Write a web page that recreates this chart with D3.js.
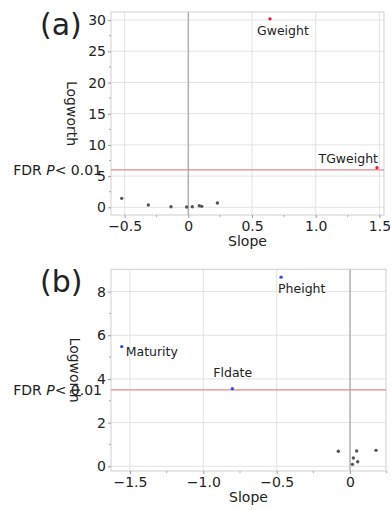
<!DOCTYPE html>
<html><head><meta charset="utf-8">
<script src="https://cdn.jsdelivr.net/npm/d3@7"></script>
<style>body{margin:0;background:#fff}svg{display:block}text{font-family:"DejaVu Sans",Verdana,sans-serif;fill:#222}</style>
</head><body><svg id="c" width="391" height="510"></svg>
<script>
// Panel (a)
const aSlope    = [-0.523, -0.314, -0.136, -0.013, 0.031, 0.086, 0.105, 0.228, 0.641, 1.481];
const aLogworth = [1.44, 0.37, 0.10, 0.05, 0.10, 0.26, 0.16, 0.69, 30.2, 6.35];
const aNames    = ["", "", "", "", "", "", "", "", "Gweight", "TGweight"];
const aSig      = [0, 0, 0, 0, 0, 0, 0, 0, 1, 1];
const aFDR = 6.0;
const aXTicks = [-0.5, 0, 0.5, 1.0, 1.5];
const aXTickLabels = ["\u22120.5", "0", "0.5", "1.0", "1.5"];
const aYTicks = [0, 5, 10, 15, 20, 25, 30];
// Panel (b)
const bSlope    = [-1.556, -0.802, -0.470, -0.080, 0.045, 0.177, 0.023, 0.052, 0.016];
const bLogworth = [5.48, 3.55, 8.66, 0.69, 0.70, 0.73, 0.38, 0.21, 0.09];
const bNames    = ["Maturity", "Fldate", "Pheight", "", "", "", "", "", ""];
const bSig      = [1, 1, 1, 0, 0, 0, 0, 0, 0];
const bFDR = 3.5;
const bXTicks = [-1.5, -1.0, -0.5, 0];
const bXTickLabels = ["\u22121.5", "\u22121.0", "\u22120.5", "0"];
const bYTicks = [0, 2, 4, 6, 8];

const svg = d3.select("#c");

function panel(o){
  const g = svg.append("g");
  const x = d3.scaleLinear().domain(o.xd).range([o.l, o.r]);
  const y = d3.scaleLinear().domain(o.yd).range([o.b, o.t]);
  // frame background
  g.append("rect").attr("x",o.l).attr("y",o.t).attr("width",o.r-o.l).attr("height",o.b-o.t)
    .attr("fill","#fff").attr("stroke","none");
  // grid
  g.selectAll(".gx").data(o.xt.filter(v=>v!==0)).join("line")
    .attr("x1",d=>x(d)).attr("x2",d=>x(d)).attr("y1",o.t).attr("y2",o.b)
    .attr("stroke","#e3e3e3").attr("stroke-width",1);
  g.selectAll(".gy").data(o.yt).join("line")
    .attr("x1",o.l).attr("x2",o.r).attr("y1",d=>y(d)).attr("y2",d=>y(d))
    .attr("stroke","#e3e3e3").attr("stroke-width",1);
  // zero line
  g.append("line").attr("x1",x(0)).attr("x2",x(0)).attr("y1",o.t).attr("y2",o.b)
    .attr("stroke","#b0b0b0").attr("stroke-width",1.5);
  // frame
  g.append("rect").attr("x",o.l).attr("y",o.t).attr("width",o.r-o.l).attr("height",o.b-o.t)
    .attr("fill","none").attr("stroke","#cfcfcf").attr("stroke-width",1);
  // FDR line
  g.append("line").attr("x1",o.l).attr("x2",o.r).attr("y1",y(o.fdr)).attr("y2",y(o.fdr))
    .attr("stroke","#e58a8a").attr("stroke-width",1.3);
  // axes
  const xa = d3.axisBottom(x).tickValues(o.xt).tickFormat((d,i)=>o.xl[i]).tickSize(3).tickPadding(3);
  const xg = g.append("g").attr("transform",`translate(0,${o.b})`).call(xa);
  const ya = d3.axisLeft(y).tickValues(o.yt).tickFormat(d3.format("d")).tickSize(3).tickPadding(2);
  const yg = g.append("g").attr("transform",`translate(${o.l},0)`).call(ya);
  [xg,yg].forEach(a=>{
    a.select(".domain").remove();
    a.selectAll(".tick line").attr("stroke","#999");
    a.selectAll("text").style("font-family","'DejaVu Sans',Verdana,sans-serif").style("font-size","14px").attr("fill","#222");
  });
  // minor ticks
  const xm = o.xt.slice(0,-1).map((v,i)=>(v+o.xt[i+1])/2);
  if (o.xmExtra) xm.push(...o.xmExtra);
  g.selectAll(".mx").data(xm).join("line")
    .attr("x1",d=>x(d)).attr("x2",d=>x(d)).attr("y1",o.b).attr("y2",o.b+2).attr("stroke","#aaa");
  const ym = o.yt.slice(0,-1).map((v,i)=>(v+o.yt[i+1])/2);
  g.selectAll(".my").data(ym).join("line")
    .attr("x1",o.l-2).attr("x2",o.l).attr("y1",d=>y(d)).attr("y2",d=>y(d)).attr("stroke","#aaa");
  // axis titles
  g.append("text").attr("x",(o.l+o.r)/2).attr("y",o.b+31).attr("text-anchor","middle")
    .style("font-size","14px").text("Slope");
  g.append("text").attr("transform",`translate(${o.yTitleX},${(o.t+o.b)/2}) rotate(90)`)
    .attr("text-anchor","middle").attr("dy","0.35em").style("font-size","14px").text("Logworth");
  // FDR label
  const ft = g.append("text").attr("x",o.l-9).attr("y",y(o.fdr)).attr("dy","0.35em")
    .attr("text-anchor","end").style("font-size","14px");
  ft.append("tspan").text("FDR ");
  ft.append("tspan").style("font-style","italic").text("P");
  ft.append("tspan").text("< 0.01");
  // panel letter
  g.append("text").attr("x",o.l-71).attr("y",o.t+23).style("font-size","30px")
    .style("font-family","'DejaVu Sans',sans-serif").text(o.letter);
  // points
  const pts = o.xs.map((v,i)=>({x:v,y:o.ys[i],n:o.names[i],s:o.sig[i],off:o.off[i]}));
  g.selectAll(".pt").data(pts).join("circle")
    .attr("cx",d=>x(d.x)).attr("cy",d=>y(d.y)).attr("r",1.7)
    .attr("fill",d=>d.s?o.sigColor:"#555");
  g.selectAll(".lb").data(pts.filter(d=>d.n)).join("text")
    .attr("x",d=>x(d.x)+d.off[0]).attr("y",d=>y(d.y)+d.off[1])
    .attr("text-anchor",d=>d.off[2]).style("font-size","12.5px").attr("fill","#222").text(d=>d.n);
}

panel({l:111,r:384,t:12,b:215,xd:[-0.607,1.536],yd:[-1.23,31.3],
  xt:aXTicks,xl:aXTickLabels,yt:aYTicks,fdr:aFDR,xs:aSlope,ys:aLogworth,names:aNames,sig:aSig,
  sigColor:"#e0203a",letter:"(a)",yTitleX:72,
  off:[[0,0,"start"],[0,0,"start"],[0,0,"start"],[0,0,"start"],[0,0,"start"],[0,0,"start"],[0,0,"start"],[0,0,"start"],[-13,16,"start"],[1,-5,"end"]]});

panel({l:111,r:386,t:269.3,b:471,xd:[-1.629,0.245],yd:[-0.215,9.02],
  xt:bXTicks,xl:bXTickLabels,yt:bYTicks,fdr:bFDR,xs:bSlope,ys:bLogworth,names:bNames,sig:bSig,
  sigColor:"#2a50e0",letter:"(b)",yTitleX:75,xmExtra:[0.25],
  off:[[4,9.5,"start"],[-19,-12,"start"],[-3,16,"start"],[0,0,"start"],[0,0,"start"],[0,0,"start"],[0,0,"start"],[0,0,"start"],[0,0,"start"]]});
</script></body></html>
